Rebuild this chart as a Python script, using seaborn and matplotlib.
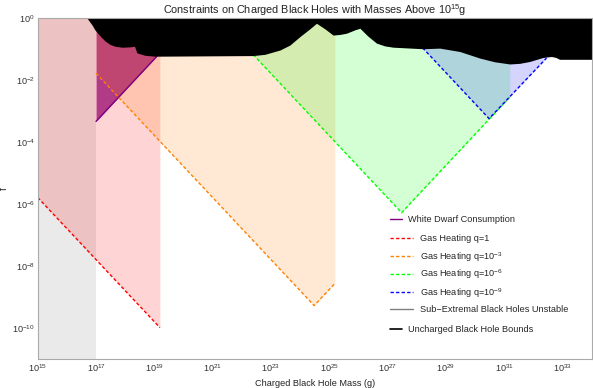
import matplotlib
matplotlib.use("Agg")
import matplotlib.pyplot as plt
from matplotlib.lines import Line2D
import numpy as np
import seaborn as sns

# values, as log10(mass in g) and log10(f)
wd_logm = [17.0, 19.08]
wd_logf = [-3.34, -1.25]

red_logm = [15.0, 19.19]
red_logf = [-5.79, -9.98]

orange_logm = [17.0, 24.48, 25.19]
orange_logf = [-1.79, -9.27, -8.56]

green_logm = [22.39, 27.48, 31.19]
green_logf = [-1.19, -6.28, -2.56]

blue_logm = [28.2, 30.48, 32.45]
blue_logf = [-0.97, -3.25, -1.30]

subext_logm = [15.0, 17.0]

bound_logm = [16.68, 16.86, 16.96, 17.14, 17.31, 17.48, 17.65, 17.89, 18.16, 18.32,
              18.40, 18.67, 19.02, 22.38, 22.79, 23.31, 23.65, 23.99, 24.33, 24.56,
              24.85, 25.13, 25.36, 25.59, 25.88, 26.05, 26.32, 26.62, 26.91, 27.19,
              28.22, 28.79, 29.48, 30.16, 30.67, 31.19, 31.53, 31.87, 32.33, 32.62,
              32.77, 32.90, 34.0]
bound_logf = [0.0, -0.23, -0.39, -0.59, -0.75, -0.86, -0.92, -0.95, -0.94, -0.92,
              -1.13, -1.21, -1.24, -1.22, -1.18, -1.04, -0.88, -0.61, -0.36, -0.18,
              -0.36, -0.56, -0.54, -0.50, -0.39, -0.34, -0.59, -0.82, -0.91, -0.95,
              -1.00, -0.98, -1.09, -1.30, -1.42, -1.49, -1.47, -1.41, -1.28, -1.25,
              -1.28, -1.34, -1.34]

legend_labels = ["White Dwarf Consumption", "Gas Heating q=1",
                 "Gas Heating q=10$^{-3}$", "Gas Heating q=10$^{-6}$",
                 "Gas Heating q=10$^{-9}$", "Sub\u2212Extremal Black Holes Unstable",
                 "Uncharged Black Hole Bounds"]

sns.set_theme(style="white")
plt.rcParams['font.family'] = ['Liberation Sans', 'DejaVu Sans']
plt.rcParams['mathtext.fontset'] = 'custom'
plt.rcParams['mathtext.rm'] = 'Liberation Sans'
plt.rcParams['mathtext.it'] = 'Liberation Sans'

PURPLE = (0.5, 0.0, 0.5)
RED = (1.0, 0.0, 0.0)
ORANGE = (1.0, 0.5, 0.0)
GREEN = (0.0, 1.0, 0.0)
BLUE = (0.0, 0.0, 1.0)
GRAY = (0.5, 0.5, 0.5)
A = 0.17
DASH = (0, (2.4, 1.6))

fig = plt.figure(figsize=(5.93, 3.88), dpi=100)
ax = fig.add_axes([0.0636, 0.074, 0.9342, 0.8804])
ax.set_xscale('log')
ax.set_yscale('log')

def tp(v):
    return 10 ** np.asarray(v, dtype=float)

# filled regions
ax.fill_between(tp(wd_logm), tp(wd_logf), 1, color=PURPLE, alpha=0.72, lw=0, zorder=1)
ax.fill_between(tp(subext_logm), 1e-11, 1, color=GRAY, alpha=0.16, lw=0, zorder=2)
ax.fill_between(tp(red_logm), tp(red_logf), 1, color=RED, alpha=A, lw=0, zorder=2)
ax.fill_between(tp(orange_logm), tp(orange_logf), 1, color=ORANGE, alpha=A, lw=0, zorder=2)
ax.fill_between(tp(green_logm), tp(green_logf), 1, color=GREEN, alpha=A, lw=0, zorder=2)
ax.fill_between(tp(blue_logm), tp(blue_logf), 1, color=BLUE, alpha=A, lw=0, zorder=2)

# boundary lines
sns.lineplot(x=tp(wd_logm), y=tp(wd_logf), ax=ax, color=PURPLE, lw=1.0, sort=False, estimator=None, zorder=3)
for lm, lf, c in [(red_logm, red_logf, RED), (orange_logm, orange_logf, ORANGE),
                  (green_logm, green_logf, GREEN), (blue_logm, blue_logf, BLUE)]:
    sns.lineplot(x=tp(lm), y=tp(lf), ax=ax, color=c, lw=1.0, linestyle=DASH,
                 sort=False, estimator=None, zorder=3)

ax.fill_between(tp(bound_logm), tp(bound_logf), 1.2, color='black', lw=0, zorder=4)

ax.set_xlim(1e15, 1e34)
ax.set_ylim(1e-11, 1)
ax.set_xticks([10.0 ** k for k in range(15, 34, 2)])
ax.set_yticks([10.0 ** k for k in range(-10, 1, 2)])
ax.minorticks_off()
ax.tick_params(direction='in', length=2.5, width=0.6, color='#999999',
               labelsize=6.6, labelcolor='#333333', pad=2)
for s in ax.spines.values():
    s.set_color('#aaaaaa')
    s.set_linewidth(0.8)
    s.set_zorder(5)

ax.set_title("Constraints on Charged Black Holes with Masses Above 10$^{15}$g",
             fontsize=7.8, color='#222222', pad=3)
ax.set_xlabel("Charged Black Hole Mass (g)", fontsize=6.6, color='#222222', labelpad=4)
ax.set_ylabel("f", fontsize=7, color='#222222', labelpad=2)

# legend, one row per entry so the rows sit where the reference has them
handles = [Line2D([], [], color=PURPLE, lw=1.0)]
handles += [Line2D([], [], color=c, lw=1.0, linestyle=DASH) for c in (RED, ORANGE, GREEN, BLUE)]
handles += [Line2D([], [], color=GRAY, lw=1.0), Line2D([], [], color='black', lw=1.2)]
row_y = [220, 238.3, 256.7, 274.5, 292.8, 310, 330]
short = [True, False, False, False, False, False, True]
for i, (h, lab, ry, sh) in enumerate(zip(handles, legend_labels, row_y, short)):
    leg = ax.legend([h], [lab], loc='center left', frameon=False,
                    bbox_to_anchor=(390 / 593, 1 - ry / 388), bbox_transform=fig.transFigure,
                    fontsize=6.6, handlelength=1.3 if sh else 2.56,
                    handletextpad=0.65 if sh else 0.73,
                    borderpad=0, borderaxespad=0)
    if i < len(handles) - 1:
        ax.add_artist(leg)

fig.savefig("out.png", dpi=100)
